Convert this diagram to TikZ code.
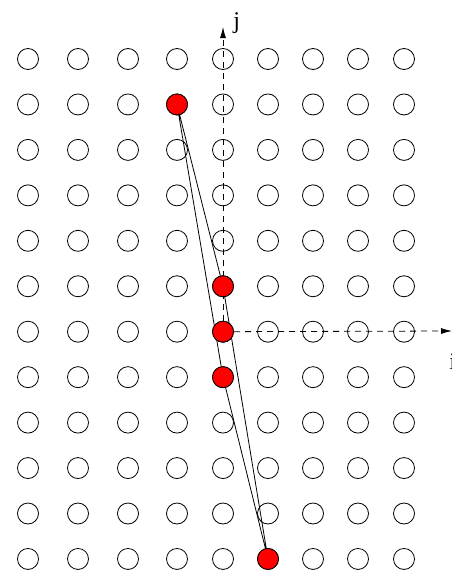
\documentclass[tikz,border=0pt]{standalone}
\usepackage{fontspec}
\setmainfont{Liberation Serif}
\usetikzlibrary{arrows.meta}

\begin{document}
\begin{tikzpicture}[x=1pt,y=-1pt,line width=0.8pt,>={Latex[length=11pt,width=6pt]},
  site/.style={circle,draw,minimum size=21pt,inner sep=0pt},
  hit/.style={site,fill=red},
  axis/.style={->,dash pattern=on 6pt off 5pt}]
  \useasboundingbox (0,0) rectangle (452,573);
  % lattice
  \foreach \x [count=\i] in {28,78,128,177,223,268,313,358,404}
    \foreach \j in {1,...,12}
      \node[site] (s\i-\j) at (\x,{59+45.45*(\j-1)}) {};
  % axes
  \coordinate (jtip) at (223,27);
  \coordinate (itip) at (452,331);
  \draw[axis] (s5-7.center) -- (jtip);
  \draw[axis] (s5-7.center) -- (itip);
  \node[anchor=base west,font=\fontsize{24}{26}\selectfont,inner sep=0pt] (jlab) at (233,28) {j};
  \node[anchor=base west,font=\fontsize{24}{26}\selectfont,inner sep=0pt] (ilab) at (449,369) {i};
  % quadrilateral
  \draw (s4-2.center)--(s5-6.center)--(s6-12.center)--(s5-8.center)--cycle;
  \node[hit] (A) at (s4-2) {};
  \node[hit] (B) at (s5-6) {};
  \node[hit] (O) at (s5-7) {};
  \node[hit] (C) at (s5-8) {};
  \node[hit] (D) at (s6-12) {};
\end{tikzpicture}
\end{document}
